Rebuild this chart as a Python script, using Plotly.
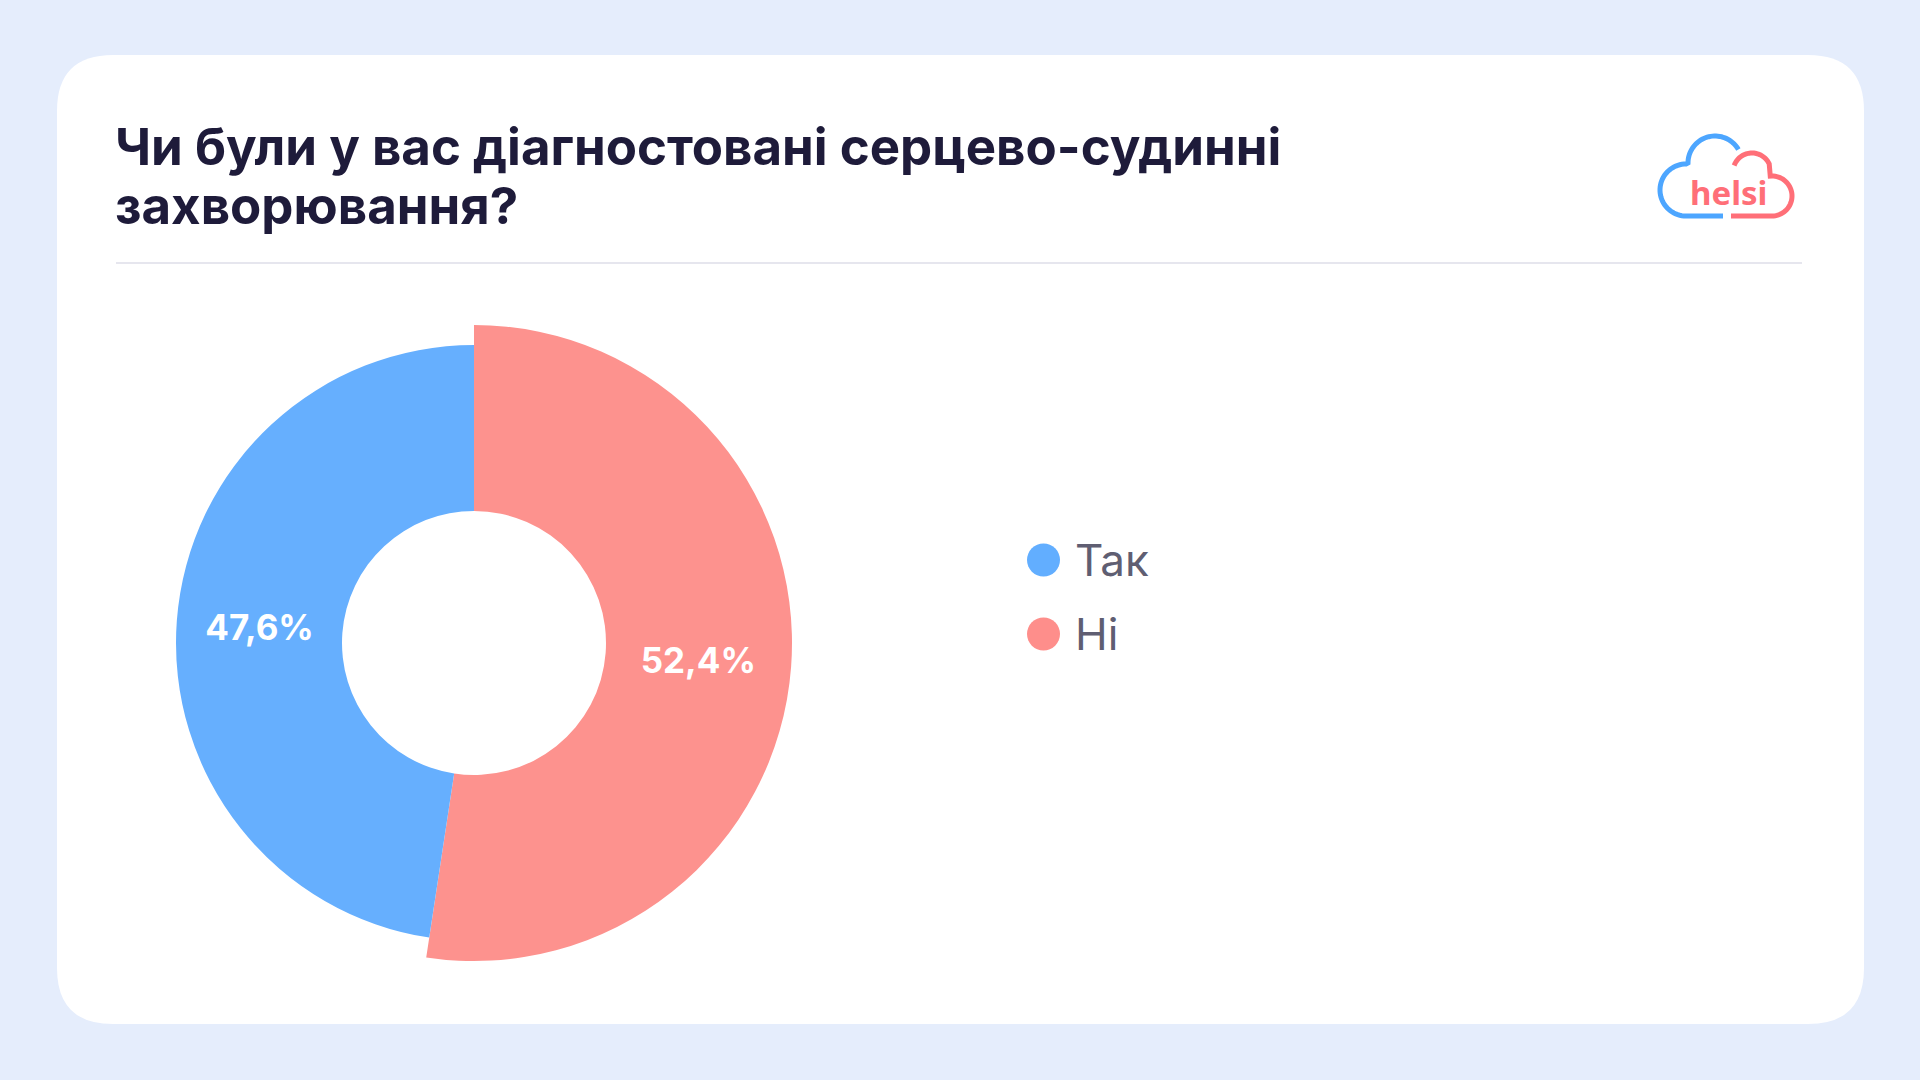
import numpy as np
import plotly.graph_objects as go

# ---- data ----
categories = ["Так", "Ні"]
values = [47.6, 52.4]
slice_colors = ["#66AFFE", "#FD928E"]
title_lines = ["Чи були у вас діагностовані серцево-судинні", "захворювання?"]

W, H = 1920, 1080


def fx(x):
    return x / W


def fy(y):
    return 1 - y / H


def pct(v):
    return f"{v:.1f}%".replace(".", ",")


labels_text = [pct(v) for v in values]

fig = go.Figure()

# donut geometry (pixels)
cx, cy = 474, 643
r_hole = 132
r_big = 318   # "Ні"
r_small = 298  # "Так"


def dom(r):
    return dict(x=[fx(cx - r), fx(cx + r)], y=[fy(cy + r), fy(cy - r)])


# first slice ("Так") ends at 12 o'clock, sitting on the left side
start_angle = -values[0] / sum(values) * 360

label_font = dict(family="Inter, Roboto, sans-serif", size=35, color="white", weight=700)
common = dict(
    labels=categories,
    values=values,
    sort=False,
    direction="clockwise",
    rotation=start_angle,
    textinfo="text",
    insidetextorientation="horizontal",
    showlegend=False,
    hoverinfo="label+percent",
)

# larger ring: only "Ні" visible
fig.add_trace(go.Pie(
    **common,
    domain=dom(r_big),
    hole=r_hole / r_big,
    text=["", labels_text[1]],
    marker=dict(colors=["rgba(0,0,0,0)", slice_colors[1]], line=dict(width=0)),
    textfont=label_font,
))
# smaller ring: only "Так" visible
fig.add_trace(go.Pie(
    **common,
    domain=dom(r_small),
    hole=r_hole / r_small,
    text=[labels_text[0], ""],
    marker=dict(colors=[slice_colors[0], "rgba(0,0,0,0)"], line=dict(width=0)),
    textfont=label_font,
))

shapes = []

# card with rounded corners
x0, y0, x1, y1, rr = 57, 55, 1864, 1024, 56
card = (
    f"M {fx(x0 + rr)},{fy(y0)} L {fx(x1 - rr)},{fy(y0)} "
    f"Q {fx(x1)},{fy(y0)} {fx(x1)},{fy(y0 + rr)} "
    f"L {fx(x1)},{fy(y1 - rr)} Q {fx(x1)},{fy(y1)} {fx(x1 - rr)},{fy(y1)} "
    f"L {fx(x0 + rr)},{fy(y1)} Q {fx(x0)},{fy(y1)} {fx(x0)},{fy(y1 - rr)} "
    f"L {fx(x0)},{fy(y0 + rr)} Q {fx(x0)},{fy(y0)} {fx(x0 + rr)},{fy(y0)} Z"
)
shapes.append(dict(type="path", xref="paper", yref="paper", path=card,
                   fillcolor="white", line=dict(width=0), layer="below"))

# separator line
shapes.append(dict(type="line", xref="paper", yref="paper",
                   x0=fx(116), x1=fx(1802), y0=fy(263), y1=fy(263),
                   line=dict(color="#E6E6EE", width=2)))


# logo (decorative cloud outlines)
def arc(c, r, a0, a1, n=40):
    a = np.radians(np.linspace(a0, a1, n))
    return [(c[0] + r * np.cos(t), c[1] - r * np.sin(t)) for t in a]


def poly(pts):
    return "M " + " L ".join(f"{fx(p[0]):.5f},{fy(p[1]):.5f}" for p in pts)


blue_pts = [(1723, 216), (1686, 216)] + arc((1686, 190), 26, -90, -270) + arc((1715, 163), 27, 180, 30)
red_pts = arc((1752, 172), 19, 160, 25) + arc((1772, 196), 20, 95, -90) + [(1731, 216)]
shapes.append(dict(type="path", xref="paper", yref="paper", path=poly(blue_pts),
                   line=dict(color="#4DA6FF", width=5)))
shapes.append(dict(type="path", xref="paper", yref="paper", path=poly(red_pts),
                   line=dict(color="#FF6F78", width=5)))

# legend markers
legend_y = [560, 634]
legend_colors = ["#62AEFF", "#FE8E8B"]
for yy, col in zip(legend_y, legend_colors):
    shapes.append(dict(type="circle", xref="paper", yref="paper",
                       x0=fx(1027), x1=fx(1060), y0=fy(yy + 16.5), y1=fy(yy - 16.5),
                       fillcolor=col, line=dict(width=0)))

annotations = []
for yy, lab in zip(legend_y, categories):
    annotations.append(dict(xref="paper", yref="paper", x=fx(1073), y=fy(yy),
                            xanchor="left", yanchor="middle", showarrow=False,
                            text=lab, font=dict(family="Inter, Roboto, sans-serif", size=44, color="#5F5E72")))

for yy, line in zip([147, 205], title_lines):
    annotations.append(dict(xref="paper", yref="paper", x=fx(113), y=fy(yy),
                            xanchor="left", yanchor="middle", align="left", showarrow=False,
                            text=line,
                            font=dict(family="Inter, Roboto, sans-serif", size=51, color="#1E1B3A", weight=700)))

annotations.append(dict(xref="paper", yref="paper", x=fx(1728), y=fy(192),
                        xanchor="center", yanchor="middle", showarrow=False,
                        text="helsi",
                        font=dict(family="Noto Sans, sans-serif", size=33, color="#FF6F78", weight=700)))

fig.update_layout(
    width=W, height=H,
    margin=dict(l=0, r=0, t=0, b=0),
    paper_bgcolor="#E5EDFC",
    plot_bgcolor="#E5EDFC",
    shapes=shapes,
    annotations=annotations,
)

fig.write_html("out.html", config={"displayModeBar": False},
               post_script="document.body.style.margin='0';document.body.style.overflow='hidden';")
